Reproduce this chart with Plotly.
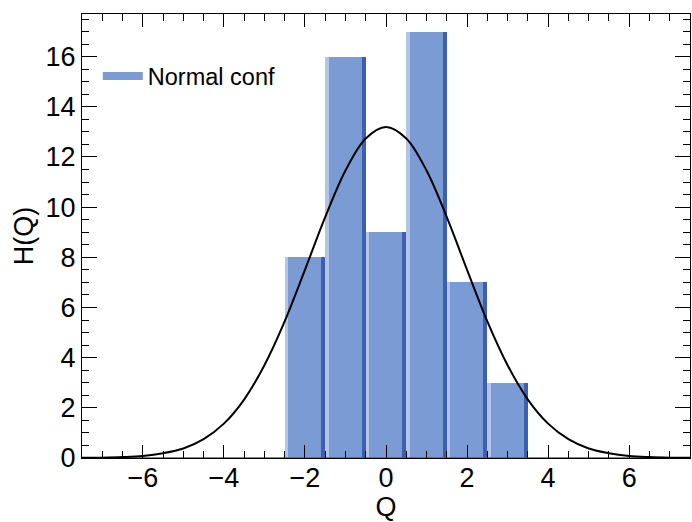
import plotly.graph_objects as go

# Histogram of Q: bin edges from -7.5 to 7.5, unit width
bin_lo = [-7.5, -6.5, -5.5, -4.5, -3.5, -2.5, -1.5, -0.5, 0.5, 1.5, 2.5, 3.5, 4.5, 5.5, 6.5]
counts = [0, 0, 0, 0, 0, 8, 16, 9, 17, 7, 3, 0, 0, 0, 0]

# Fitted curve H(Q), sampled along Q
curve_q = [-7.5, -7.0, -6.5, -6.0, -5.5, -5.0, -4.5, -4.0, -3.5, -3.0, -2.5, -2.0,
           -1.5, -1.0, -0.5, 0.0, 0.5, 1.0, 1.5, 2.0, 2.5, 3.0, 3.5, 4.0, 4.5,
           5.0, 5.5, 6.0, 6.5, 7.0, 7.5]
curve_h = [0.005, 0.014, 0.035, 0.08, 0.19, 0.38, 0.75, 1.37, 2.33, 3.70, 5.45, 7.50,
           9.60, 11.46, 12.74, 13.20, 12.74, 11.46, 9.60, 7.50, 5.45, 3.70, 2.33, 1.37, 0.75,
           0.38, 0.19, 0.08, 0.035, 0.014, 0.005]

x_ticks = [-6, -4, -2, 0, 2, 4, 6]
y_ticks = [0, 2, 4, 6, 8, 10, 12, 14, 16]

FILL = "#7b9bd4"
LIGHT = "#b3c4e7"
DARK = "#3d60ae"
FONT = "Liberation Sans, Arial, sans-serif"

nz_lo = [lo for lo, c in zip(bin_lo, counts) if c > 0]
nz_c = [c for c in counts if c > 0]

fig = go.Figure()

# body of each bar
fig.add_trace(go.Bar(x=nz_lo, y=nz_c, width=1.0, offset=0, marker_color=FILL,
                     marker_line_width=0, showlegend=False, hoverinfo="skip"))
# highlight strip on the left side
fig.add_trace(go.Bar(x=nz_lo, y=nz_c, width=0.09, offset=0, marker_color=LIGHT,
                     marker_line_width=0, showlegend=False, hoverinfo="skip"))
# shadow strip on the right side
fig.add_trace(go.Bar(x=[v + 0.9 for v in nz_lo], y=nz_c, width=0.1, offset=0,
                     marker_color=DARK, marker_line_width=0, showlegend=False,
                     hoverinfo="skip"))

# empty bins show as a thin line at zero
fig.add_trace(go.Scatter(x=[bin_lo[0], bin_lo[-1] + 1], y=[0, 0], mode="lines",
                         line=dict(color=DARK, width=1.5), showlegend=False,
                         hoverinfo="skip", cliponaxis=False))

fig.add_trace(go.Scatter(x=curve_q, y=curve_h, mode="lines", line_shape="spline",
                         line=dict(color="black", width=2), showlegend=False))

# legend entry
fig.add_trace(go.Scatter(x=[None], y=[None], mode="lines", name="Normal conf",
                         line=dict(color=FILL, width=8)))

axis_common = dict(
    showgrid=False, zeroline=False, showline=True, linecolor="black", linewidth=1,
    mirror="allticks", ticks="inside", tickcolor="black", tickwidth=1,
    tickfont=dict(family=FONT, size=27, color="black"),
    minor=dict(ticks="inside", ticklen=7, tickcolor="black", tickwidth=1, dtick=0.5),
)

fig.update_xaxes(range=[-7.5, 7.5], tickvals=x_ticks, ticklen=13, ticklabelstandoff=-4,
                 title=dict(text="Q", font=dict(family=FONT, size=27, color="black"),
                            standoff=0),
                 **axis_common)
fig.update_yaxes(range=[0, 17.7], tickvals=y_ticks, ticklen=15,
                 title=dict(text="H(Q)", font=dict(family=FONT, size=27, color="black"),
                            standoff=4),
                 **axis_common)

fig.update_layout(
    width=692, height=522,
    margin=dict(l=82, r=2, t=14, b=64),
    plot_bgcolor="white", paper_bgcolor="white",
    barmode="overlay", bargap=0,
    legend=dict(x=0.026, y=0.86, xanchor="left", yanchor="middle", itemwidth=40,
                bgcolor="rgba(0,0,0,0)", font=dict(family=FONT, size=23.5, color="black")),
)

fig.write_html("out.html")
